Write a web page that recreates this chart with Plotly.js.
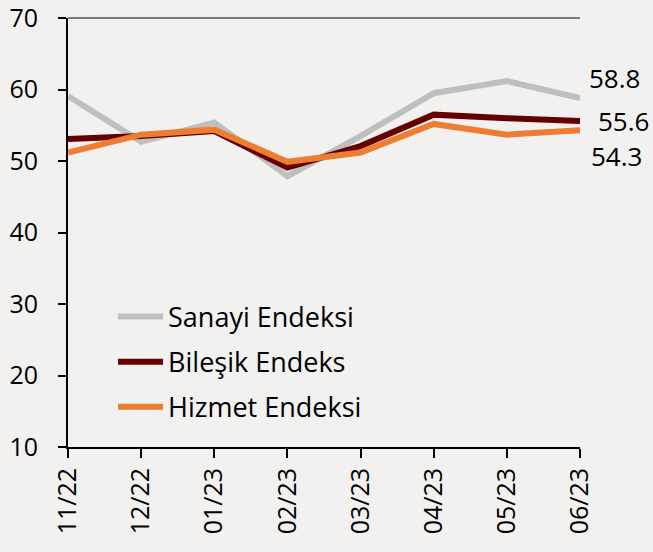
<!DOCTYPE html>
<html>
<head>
<meta charset="utf-8">
<script src="https://cdn.plot.ly/plotly-3.0.1.min.js"></script>
<style>
  html, body { margin: 0; padding: 0; background: #F2F1EF; }
  #chart { width: 653px; height: 552px; }
</style>
</head>
<body>
<div id="chart"></div>
<script>
const categories = ["11/22", "12/22", "01/23", "02/23", "03/23", "04/23", "05/23", "06/23"];
const sanayi  = [59.1, 52.7, 55.4, 47.9, 53.5, 59.5, 61.2, 58.8];
const bilesik = [53.1, 53.5, 54.2, 49.1, 52.1, 56.5, 56.0, 55.6];
const hizmet  = [51.2, 53.7, 54.4, 49.9, 51.2, 55.2, 53.7, 54.3];
const seriesNames = ["Sanayi Endeksi", "Bileşik Endeks", "Hizmet Endeksi"];
const seriesColors = ["#BFBFBF", "#660000", "#ED7D31"];
const yTicks = [10, 20, 30, 40, 50, 60, 70];

const FONT = "Open Sans, sans-serif";
const allSeries = [sanayi, bilesik, hizmet];

const traces = allSeries.map((vals, i) => ({
  type: "scatter",
  mode: "lines",
  x: categories,
  y: vals,
  name: seriesNames[i],
  legendgroup: "g" + i,
  line: { color: seriesColors[i], width: 6 },
  hoverinfo: "skip"
}));

// End-of-line value labels
const labelOffsets = [
  { xshift: 7, yshift: 20 },
  { xshift: 16, yshift: 0 },
  { xshift: 9, yshift: -26 }
];
const last = categories.length - 1;
const annotations = allSeries.map((vals, i) => ({
  x: categories[last],
  y: vals[last],
  xref: "x", yref: "y",
  text: vals[last].toFixed(1),
  showarrow: false,
  xanchor: "left",
  yanchor: "middle",
  xshift: labelOffsets[i].xshift,
  yshift: labelOffsets[i].yshift,
  font: { family: FONT, size: 26, color: "#000000" }
}));

const layout = {
  width: 653,
  height: 552,
  paper_bgcolor: "#F2F1EF",
  plot_bgcolor: "#F2F1EF",
  margin: { l: 68, r: 73, t: 18, b: 105, pad: 0 },
  showlegend: true,
  legend: {
    x: 0.088, y: 0.36,
    xanchor: "left", yanchor: "top",
    bgcolor: "rgba(0,0,0,0)",
    font: { family: FONT, size: 27, color: "#000000" },
    tracegroupgap: 7,
    itemwidth: 45
  },
  xaxis: {
    type: "category",
    range: [0, last],
    showgrid: false,
    zeroline: false,
    showline: true,
    linecolor: "#000000",
    linewidth: 2,
    ticks: "outside",
    ticklen: 9,
    tickwidth: 2,
    tickcolor: "#000000",
    tickangle: -90,
    tickfont: { family: FONT, size: 25, color: "#000000" },
    fixedrange: true
  },
  yaxis: {
    range: [10, 70.02],
    tickvals: yTicks,
    ticktext: yTicks.map(String),
    showgrid: false,
    zeroline: false,
    showline: true,
    linecolor: "#000000",
    linewidth: 2,
    ticks: "outside",
    ticklen: 8,
    tickwidth: 2,
    tickcolor: "#000000",
    ticklabelstandoff: 15,
    ticklabeloverflow: "allow",
    tickfont: { family: FONT, size: 25, color: "#000000" },
    fixedrange: true
  },
  shapes: [{
    type: "line", xref: "paper", yref: "paper",
    x0: 0, x1: 1, y0: 1, y1: 1,
    line: { color: "#555555", width: 1.5 }
  }],
  annotations: annotations
};

Plotly.newPlot("chart", traces, layout, { displayModeBar: false, staticPlot: true });
</script>
</body>
</html>
